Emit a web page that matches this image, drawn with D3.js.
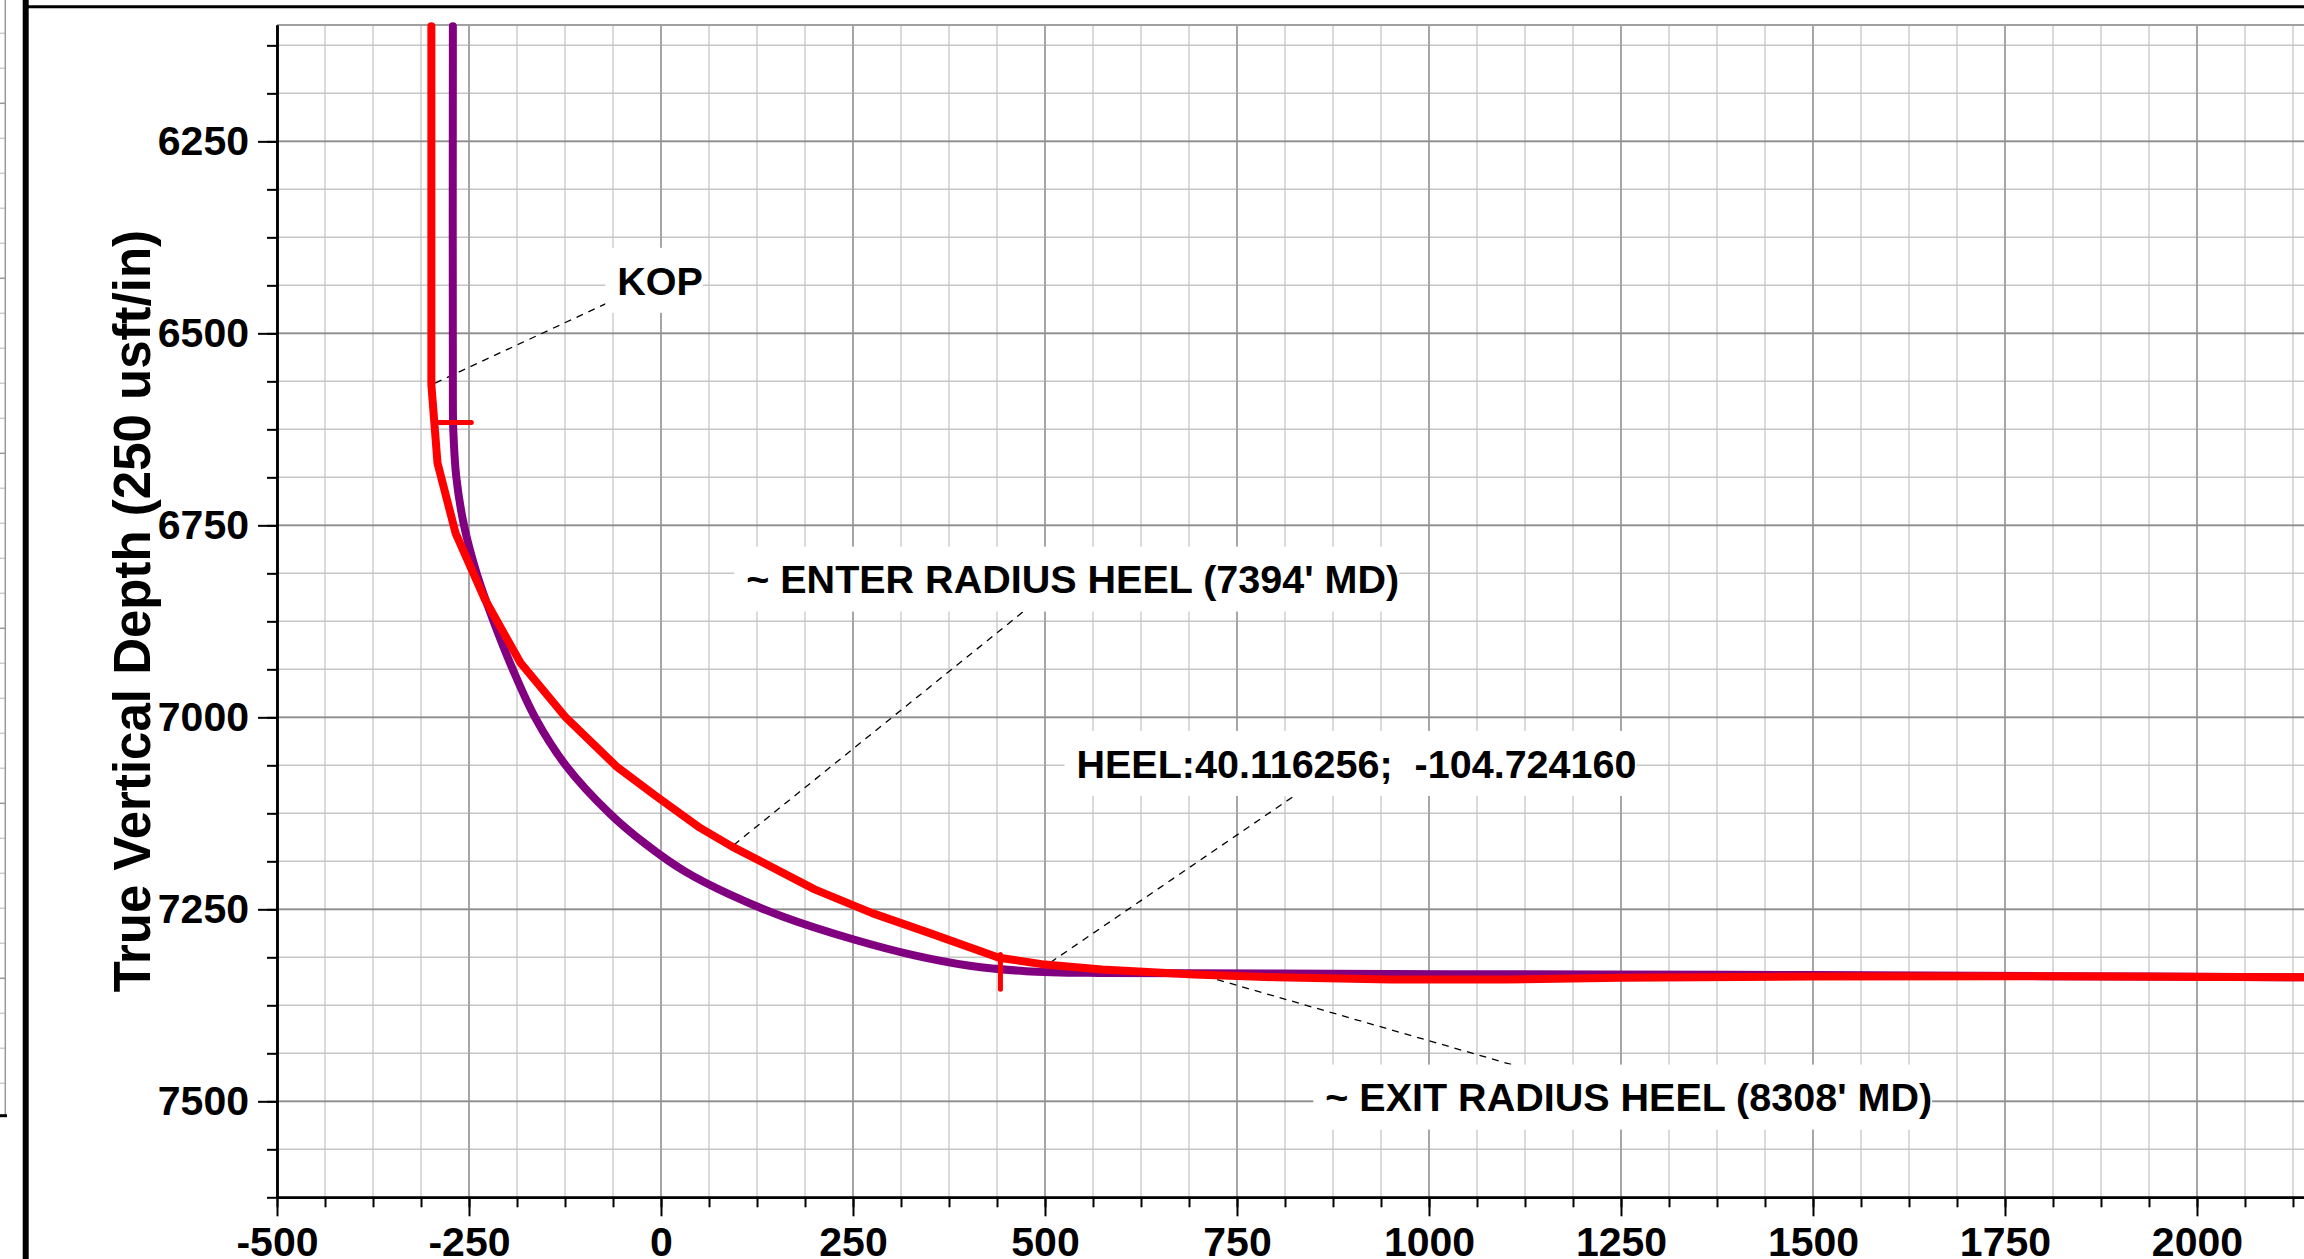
<!DOCTYPE html>
<html>
<head>
<meta charset="utf-8">
<script src="https://cdn.jsdelivr.net/npm/d3@7"></script>
<style>
    html, body { margin: 0; padding: 0; background: #fff; overflow: hidden; }
    svg { display: block; font-family: "Liberation Sans", Arial, Helvetica, sans-serif; font-weight: bold; }
</style>
</head>
<body>
<svg id="chart" width="2304" height="1259"></svg>
<script>
// ——— Tick values (ft) ———
const xMajorTicks = [-500, -250, 0, 250, 500, 750, 1000, 1250, 1500, 1750, 2000];
const yMajorTicks = [6250, 6500, 6750, 7000, 7250, 7500];
const minorStep = 62.5;

// ——— Plan well path (purple): vertical section vs TVD ———
const planEW  = [-271, -271, -270.5, -266.5, -256.5, -240, -218, -193, -164, -124, -67, -20, 30, 90, 160, 250, 330, 402, 475, 574, 800, 1223, 1500, 1800, 2140];
const planTVD = [6100, 6590, 6625, 6687.5, 6750, 6812.5, 6875, 6937.5, 7000, 7062.5, 7125, 7165, 7200, 7231, 7260, 7289, 7310, 7323.5, 7330.5, 7333, 7333.7, 7335, 7335.5, 7337, 7338.5];

// ——— Actual well path (red) ———
const actualEW  = [-299, -299, -291, -267.5, -229, -183, -125, -58, -6, 51, 92, 200, 275, 350, 440, 500, 574, 694, 800, 950, 1100, 1250, 1500, 1800, 2140];
const actualTVD = [6100, 6567, 6669, 6760, 6847, 6929, 6999, 7064, 7103, 7144, 7168, 7224, 7255, 7281, 7313, 7322, 7328.5, 7335, 7338.5, 7341.5, 7341.5, 7339, 7337.5, 7337, 7338.5];

// ——— Red marker ticks ———
const markEW1  = [-289, 442];
const markEW2  = [-247, 442];
const markTVD1 = [6616, 7309];
const markTVD2 = [6616, 7354];

// ——— Annotations ———
const annoLabels  = ["KOP", "~ ENTER RADIUS HEEL (7394' MD)", "HEEL:40.116256;  -104.724160", "~ EXIT RADIUS HEEL (8308' MD)"];
const annoTextEW  = [-57, 111, 541, 865];
const annoTextTVD = [6431, 6820, 7060, 7494.5];
const annoFromEW  = [-71, 471, 822, 1107];
const annoFromTVD = [6461, 6863, 7104, 7452];
const annoToEW    = [-299, 90, 500, 705];
const annoToTVD   = [6567, 7170, 7324, 7336];

const svg = d3.select('#chart');
const W = 2304, H = 1259;

svg.append('rect').attr('width', W).attr('height', H).attr('fill', '#fff');

// scales
const x = d3.scaleLinear().domain([-500, 2140]).range([277, 2304.5]);
const y = d3.scaleLinear().domain([6098.5, 7625]).range([25, 1197.3]);
const [x0, x1] = x.range();
const [y0, y1] = y.range();

const xMinor = d3.range(-500, 2140, minorStep);
const yMinor = d3.range(6125, 7625.1, minorStep);

// ——— Neighbour panel edge + frame ———
const edge = svg.append('g');
d3.range(-2, 1116, 35).forEach((v, i) => {
    edge.append('line')
        .attr('x1', 0).attr('x2', 5.3).attr('y1', v + 0.3).attr('y2', v + 0.3)
        .attr('stroke', i % 5 === 3 ? '#999' : '#ccc').attr('stroke-width', 1.5);
});
edge.append('line').attr('x1', 5.3).attr('x2', 5.3).attr('y1', 0).attr('y2', 1116)
    .attr('stroke', '#999').attr('stroke-width', 1.5);
edge.append('line').attr('x1', 0).attr('x2', 7).attr('y1', 1115.7).attr('y2', 1115.7)
    .attr('stroke', '#000').attr('stroke-width', 3);
edge.append('line').attr('x1', 25.7).attr('x2', 25.7).attr('y1', 0).attr('y2', H)
    .attr('stroke', '#000').attr('stroke-width', 6);
edge.append('line').attr('x1', 25).attr('x2', W).attr('y1', 6.7).attr('y2', 6.7)
    .attr('stroke', '#000').attr('stroke-width', 3);

// ——— Grid ———
const grid = svg.append('g');
grid.selectAll('.vmin').data(xMinor).join('line')
    .attr('x1', d => x(d)).attr('x2', d => x(d)).attr('y1', y0).attr('y2', y1)
    .attr('stroke', '#dadada').attr('stroke-width', 2);
grid.selectAll('.hmin').data(yMinor).join('line')
    .attr('x1', x0).attr('x2', x1).attr('y1', d => y(d)).attr('y2', d => y(d))
    .attr('stroke', '#c6c6c6').attr('stroke-width', 1.5);
grid.selectAll('.vmaj').data(xMajorTicks).join('line')
    .attr('x1', d => x(d)).attr('x2', d => x(d)).attr('y1', y0).attr('y2', y1)
    .attr('stroke', '#a6a6a6').attr('stroke-width', 2);
grid.selectAll('.hmaj').data(yMajorTicks).join('line')
    .attr('x1', x0).attr('x2', x1).attr('y1', d => y(d)).attr('y2', d => y(d))
    .attr('stroke', '#8c8c8c').attr('stroke-width', 1.8);
grid.append('line').attr('x1', x0).attr('x2', x1).attr('y1', y0).attr('y2', y0)
    .attr('stroke', '#a0a0a0').attr('stroke-width', 2);

// ——— Axes ———
function styleAxis(g) {
    g.select('.domain').attr('stroke', '#000').attr('stroke-width', 2.5);
    g.selectAll('.tick line').attr('stroke', '#000').attr('stroke-width', 2);
    g.selectAll('.tick text').attr('fill', '#000').attr('font-size', 41)
        .attr('font-family', '"Liberation Sans", Arial, sans-serif').attr('font-weight', 'bold');
}
const fmt = d => String(d);

svg.append('g').attr('transform', `translate(0,${y1})`)
    .call(d3.axisBottom(x).tickValues(xMinor).tickSize(10).tickSizeOuter(0).tickFormat(''))
    .call(styleAxis);
svg.append('g').attr('transform', `translate(0,${y1})`)
    .call(d3.axisBottom(x).tickValues(xMajorTicks).tickSize(19).tickSizeOuter(0).tickPadding(11).tickFormat(fmt))
    .call(styleAxis);
svg.append('g').attr('transform', `translate(${x0},0)`)
    .call(d3.axisLeft(y).tickValues(yMinor).tickSize(10).tickSizeOuter(0).tickFormat(''))
    .call(styleAxis);
svg.append('g').attr('transform', `translate(${x0},0)`)
    .call(d3.axisLeft(y).tickValues(yMajorTicks).tickSize(19).tickSizeOuter(0).tickPadding(9).tickFormat(fmt))
    .call(styleAxis);

// axis title
svg.append('text')
    .attr('transform', `translate(149.5,${(y0 + y1) / 2}) rotate(-90)`)
    .attr('text-anchor', 'middle')
    .attr('font-size', 51)
    .attr('fill', '#000')
    .text('True Vertical Depth (250 usft/in)');

// ——— Leader lines ———
const leaders = svg.append('g');
annoLabels.forEach((t, i) => {
    leaders.append('line')
        .attr('x1', x(annoFromEW[i])).attr('y1', y(annoFromTVD[i]))
        .attr('x2', x(annoToEW[i])).attr('y2', y(annoToTVD[i]))
        .attr('stroke', '#000').attr('stroke-width', 1.3)
        .attr('stroke-dasharray', '7,6');
});

// ——— Well paths ———
const planPts = planEW.map((v, i) => [v, planTVD[i]]);
const actualPts = actualEW.map((v, i) => [v, actualTVD[i]]);

svg.append('path')
    .attr('d', d3.line().x(d => x(d[0])).y(d => y(d[1])).curve(d3.curveCatmullRom.alpha(0.5))(planPts))
    .attr('fill', 'none').attr('stroke', '#800080').attr('stroke-width', 8)
    .attr('stroke-linecap', 'round').attr('stroke-linejoin', 'round');

svg.append('path')
    .attr('d', d3.line().x(d => x(d[0])).y(d => y(d[1])).curve(d3.curveLinear)(actualPts))
    .attr('fill', 'none').attr('stroke', '#ff0000').attr('stroke-width', 8)
    .attr('stroke-linecap', 'round').attr('stroke-linejoin', 'round');

// red marker ticks
markEW1.forEach((v, i) => {
    svg.append('line')
        .attr('x1', x(v)).attr('y1', y(markTVD1[i]))
        .attr('x2', x(markEW2[i])).attr('y2', y(markTVD2[i]))
        .attr('stroke', '#ff0000').attr('stroke-width', 5).attr('stroke-linecap', 'round');
});

// ——— Annotation labels with white boxes ———
const labels = svg.append('g');
annoLabels.forEach((t, i) => {
    const g = labels.append('g');
    const box = g.append('rect').attr('fill', '#fff');
    const txt = g.append('text')
        .attr('x', x(annoTextEW[i]))
        .attr('y', y(annoTextTVD[i]))
        .attr('dy', '0.36em')
        .attr('font-size', 39.5)
        .attr('fill', '#000')
        .style('white-space', 'pre')
        .text(t);
    const bb = txt.node().getBBox();
    box.attr('x', bb.x - 12).attr('width', bb.width + 12)
        .attr('y', y(annoTextTVD[i]) - 32.5).attr('height', 65);
});
</script>
</body>
</html>
